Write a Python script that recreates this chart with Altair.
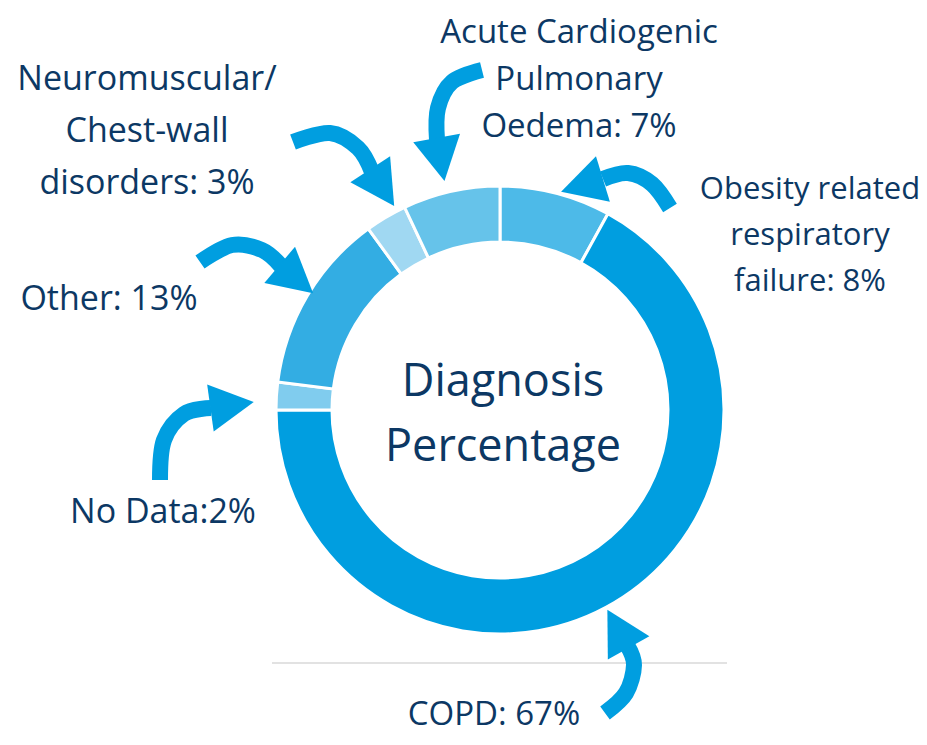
import altair as alt
import pandas as pd
import math

# ---- data ----
categories = ["Obesity related respiratory failure", "COPD", "No Data", "Other",
              "Neuromuscular/Chest-wall disorders", "Acute Cardiogenic Pulmonary Oedema"]
values = [8, 67, 2, 13, 3, 7]
colors = ["#4DBAE8", "#009EE0", "#80CCEE", "#33ADE3", "#A0D8F2", "#66C3EA"]

label_lines = [
    ["Acute Cardiogenic", "Pulmonary", "Oedema: 7%"],
    ["Neuromuscular/", "Chest-wall", "disorders: 3%"],
    ["Obesity related", "respiratory", "failure: 8%"],
    ["Other: 13%"],
    ["No Data:2%"],
    ["COPD: 67%"],
    ["Diagnosis", "Percentage"],
]

# ---- layout (annotation geometry, page pixels) ----
W, H = 911, 729
M = 8
CX, CY = 500 - M, 410 - M
label_anchor = [(579, 33, 47), (147, 80, 52), (810, 190, 46), (109, 300, 0),
                (163, 513, 0), (494, 715, 0), (503, 382, 65)]
label_size = [33, 34, 31, 34, 34, 33, 45]

arrows = [  # shaft points
    [(293, 142), (330, 133), (358, 148), (372, 172)],
    [(482, 70), (452, 82), (438, 108), (437, 140)],
    [(670, 208), (652, 184), (628, 173), (603, 179)],
    [(200, 262), (232, 245), (262, 250), (281, 266)],
    [(160, 480), (164, 440), (184, 414), (211, 408)],
    [(605, 713), (626, 693), (634, 665), (627, 645)],
]
tips = [(389, 198), (443, 173), (567, 190), (307, 288), (247, 403), (612, 618)]

# ---- tables ----
pie = pd.DataFrame({"category": categories, "value": values, "order": range(len(values))})

txt_rows = []
for lines, (x, y, dy), fs in zip(label_lines, label_anchor, label_size):
    for k, line in enumerate(lines):
        txt_rows.append({"text": line, "x": x - M, "y": y + k * dy - M, "fs": fs})
txt = pd.DataFrame(txt_rows)

shaft_rows = []
head_rows = []
for a, (pts, tip) in enumerate(zip(arrows, tips)):
    for i, (x, y) in enumerate(pts):
        shaft_rows.append({"arrow": a, "i": i, "x": x - M, "y": y - M})
    bx, by = pts[-1]
    ang = math.degrees(math.atan2(tip[0] - bx, -(tip[1] - by))) % 360
    hx, hy = (bx + tip[0]) / 2, (by + tip[1]) / 2
    head_rows.append({"arrow": a, "x": hx - M, "y": hy - M, "angle": ang})
shaft = pd.DataFrame(shaft_rows)
heads = pd.DataFrame(head_rows)

xs = alt.Scale(domain=[0, W], range=[0, W], nice=False, zero=False)
ys = alt.Scale(domain=[0, H], range=[0, H], nice=False, zero=False)

donut = alt.Chart(pie).mark_arc(radius=224, radius2=168, stroke="white", strokeWidth=3).encode(
    theta=alt.Theta("value:Q", stack=True),
    order=alt.Order("order:Q"),
    color=alt.Color("category:N", scale=alt.Scale(domain=categories, range=colors), legend=None),
    x=alt.value(CX), y=alt.value(CY),
)

baseline = alt.Chart(pd.DataFrame({"a": [0]})).mark_rule(color="#E2E2E2", strokeWidth=2).encode(
    x=alt.value(272 - M), x2=alt.value(727 - M), y=alt.value(663 - M)
)

shafts = alt.Chart(shaft).mark_line(color="#009EE0", strokeWidth=16, interpolate="cardinal",
                                    strokeCap="butt").encode(
    x=alt.X("x:Q", scale=xs, axis=None),
    y=alt.Y("y:Q", scale=ys, axis=None),
    detail="arrow:N",
    order="i:Q",
)

head_marks = alt.Chart(heads).mark_point(shape="M0,-1L0.95,0.75L-0.95,0.75Z", filled=True,
                                         opacity=1, color="#009EE0", size=2500,
                                         strokeWidth=0).encode(
    x=alt.X("x:Q", scale=xs, axis=None),
    y=alt.Y("y:Q", scale=ys, axis=None),
    angle=alt.Angle("angle:Q", scale=None),
)

texts = alt.Chart(txt).mark_text(font="Open Sans", color="#0C3864", baseline="middle",
                                 align="center").encode(
    x=alt.X("x:Q", scale=xs, axis=None),
    y=alt.Y("y:Q", scale=ys, axis=None),
    text="text:N",
    size=alt.Size("fs:Q", scale=None, legend=None),
)

chart = alt.layer(baseline, donut, shafts, head_marks, texts).properties(
    width=W, height=H, padding=0,
    autosize=alt.AutoSizeParams(type="fit", contains="padding"),
).configure_view(stroke=None)

chart.save("out.html", embed_options={"renderer": "svg", "actions": False})
